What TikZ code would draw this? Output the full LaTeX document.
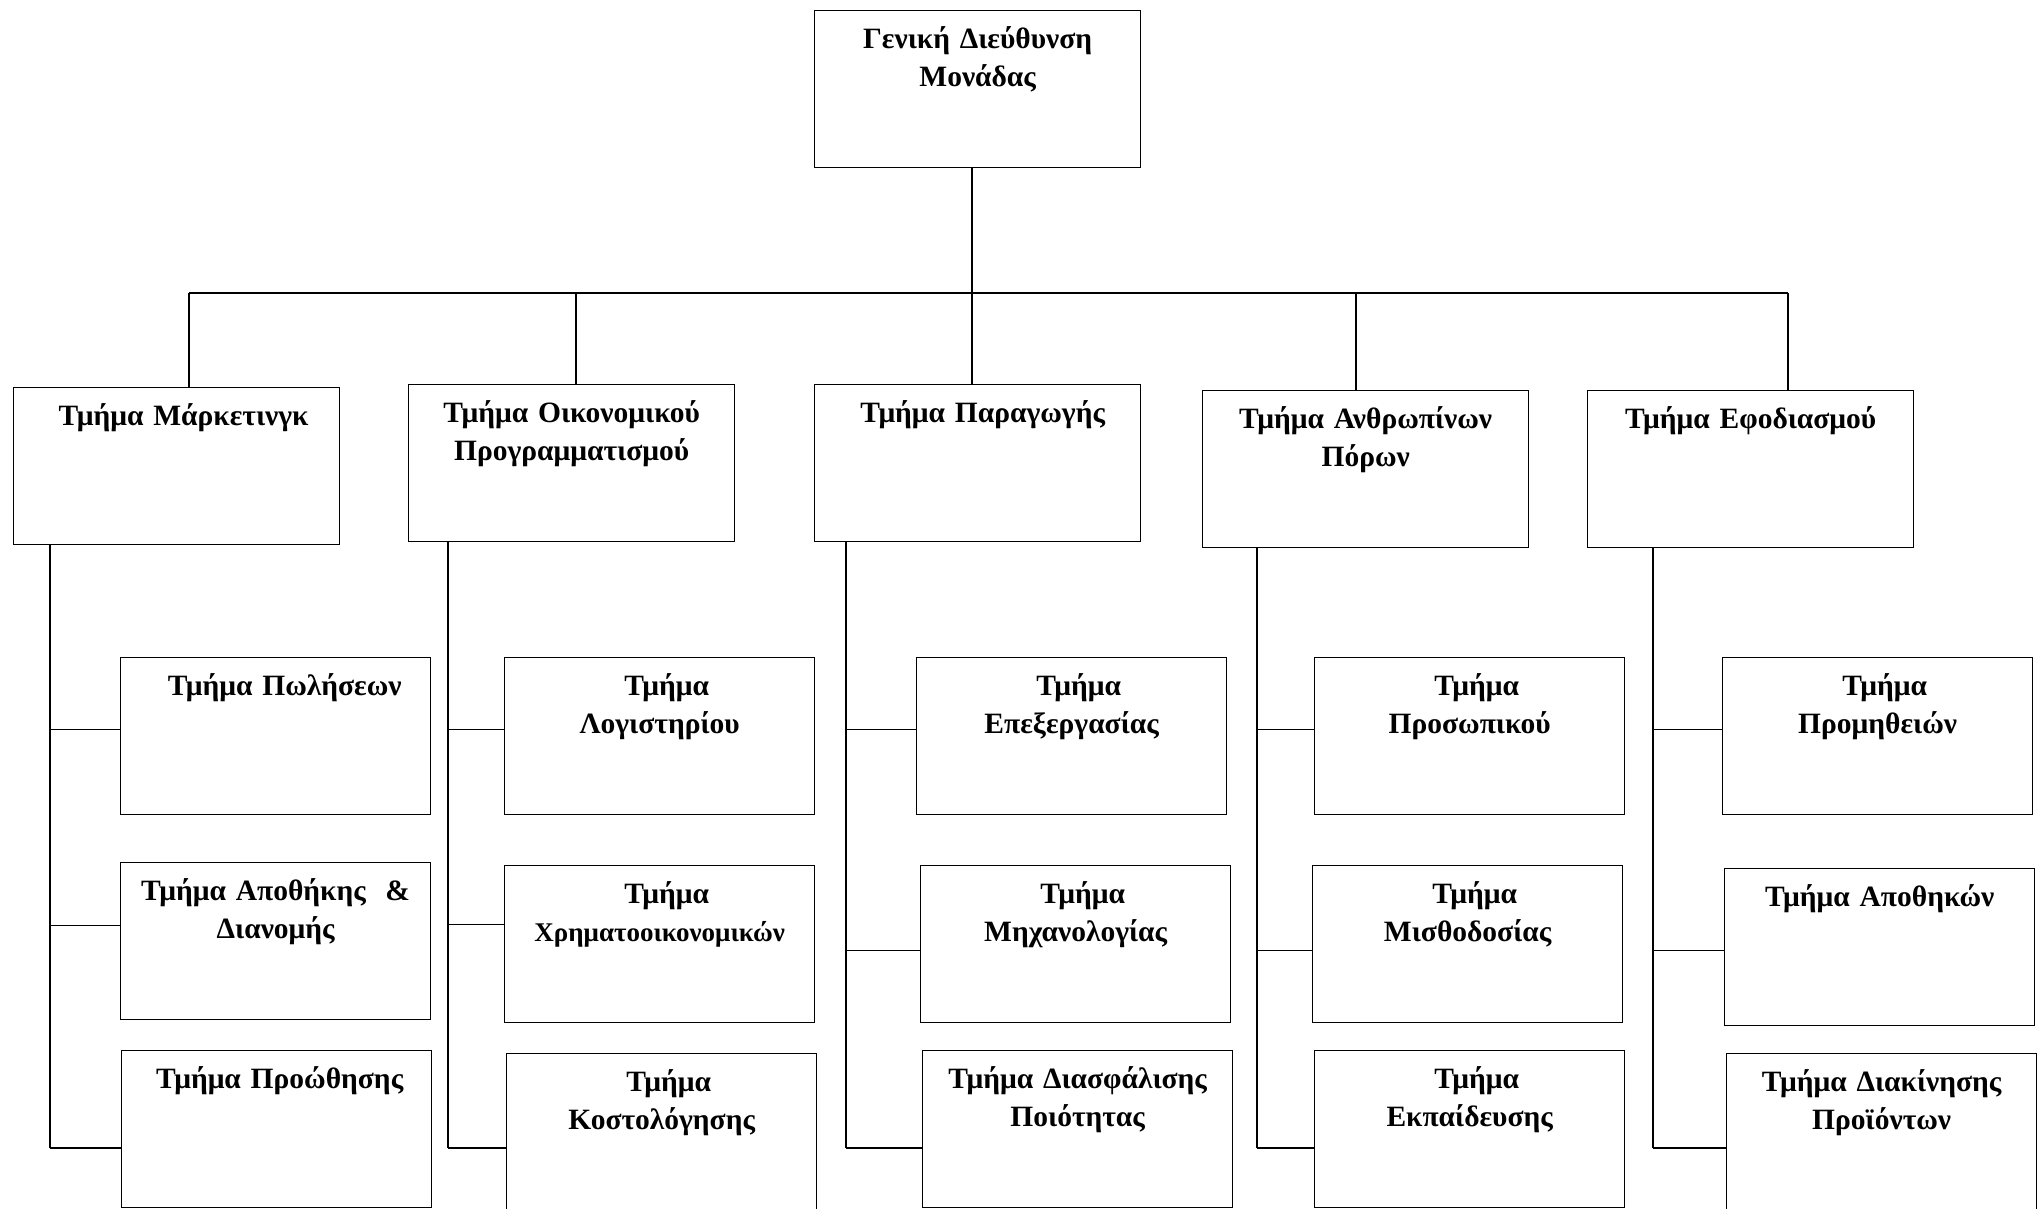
\documentclass[tikz,border=0pt]{standalone}
\usepackage{fontspec}
\setmainfont{Liberation Serif}

\begin{document}
\begin{tikzpicture}[
  x=1pt, y=-1pt,
  head/.style={draw, rectangle, line width=1.3pt, anchor=north west, inner sep=0pt,
               text width=326pt, align=center, text height=38pt, text depth=119pt,
               font=\fontsize{29.5}{37.5}\selectfont\bfseries},
  unit/.style={head, text width=310pt},
  link/.style={line width=1.3pt}
]
\useasboundingbox (0,0) rectangle (2037,1208);
\node[head] (gd)   at (814,10)   {Γενική Διεύθυνση\\Μονάδας};
\node[head] (mkt)  at (13,387)   {\hspace{14pt}Τμήμα Μάρκετινγκ};
\node[head] (oik)  at (408,384)  {Τμήμα Οικονομικού\\Προγραμματισμού};
\node[head] (par)  at (814,384)  {\hspace{10pt}Τμήμα Παραγωγής};
\node[head] (anth) at (1202,390) {Τμήμα Ανθρωπίνων\\Πόρων};
\node[head] (efo)  at (1587,390) {Τμήμα Εφοδιασμού};
% Marketing
\node[unit] (pol)  at (120,657)  {\hspace{18pt}Τμήμα Πωλήσεων};
\node[unit] (apo)  at (120,862)  {Τμήμα Αποθήκης \ \&\\Διανομής};
\node[unit] (pro)  at (121,1050) {\hspace{6pt}Τμήμα Προώθησης};
% Finance
\node[unit] (log)  at (504,657)  {\hspace{14pt}Τμήμα\\Λογιστηρίου};
\node[unit] (chr)  at (504,865)  {\hspace{14pt}Τμήμα\\{\fontsize{27}{37.5}\selectfont Χρηματοοικονομικών}};
\node[unit] (kos)  at (506,1053) {\hspace{14pt}Τμήμα\\Κοστολόγησης};
% Production
\node[unit] (epe)  at (916,657)  {\hspace{14pt}Τμήμα\\Επεξεργασίας};
\node[unit] (mix)  at (920,865)  {\hspace{14pt}Τμήμα\\Μηχανολογίας};
\node[unit] (dia)  at (922,1050) {Τμήμα Διασφάλισης\\Ποιότητας};
% Human resources
\node[unit] (pros) at (1314,657) {\hspace{14pt}Τμήμα\\Προσωπικού};
\node[unit] (mis)  at (1312,865) {\hspace{14pt}Τμήμα\\Μισθοδοσίας};
\node[unit] (ekp)  at (1314,1050) {\hspace{14pt}Τμήμα\\Εκπαίδευσης};
% Supplies
\node[unit] (prom) at (1722,657) {\hspace{14pt}Τμήμα\\Προμηθειών};
\node[unit] (apth) at (1724,868) {Τμήμα Αποθηκών};
\node[unit] (diak) at (1726,1053) {Τμήμα Διακίνησης\\Προϊόντων};
% Bus under the general directorate
\coordinate (b1) at (189,293);
\coordinate (b2) at (576,293);
\coordinate (b3) at (972,293);
\coordinate (b4) at (1356,293);
\coordinate (b5) at (1788,293);
\draw[link] (gd.south -| b3) -- (b3 |- par.north);
\draw[link] (b1) -- (b5);
\draw[link] (b1) -- (b1 |- mkt.north);
\draw[link] (b2) -- (b2 |- oik.north);
\draw[link] (b4) -- (b4 |- anth.north);
\draw[link] (b5) -- (b5 |- efo.north);
% Trunks down each department
\coordinate (t1) at (50,1148);
\coordinate (t2) at (448,1148);
\coordinate (t3) at (846,1148);
\coordinate (t4) at (1257,1148);
\coordinate (t5) at (1653,1148);
\draw[link] (mkt.south -| t1) -- (t1);
\draw[link] (oik.south -| t2) -- (t2);
\draw[link] (par.south -| t3) -- (t3);
\draw[link] (anth.south -| t4) -- (t4);
\draw[link] (efo.south -| t5) -- (t5);
% Branches
\draw[link] ([yshift=7pt]pol.west) -- ([yshift=7pt]pol.west -| t1);
\draw[link] ([yshift=16pt]apo.west) -- ([yshift=16pt]apo.west -| t1);
\draw[link] (t1) -- (t1 -| pro.west);
\draw[link] ([yshift=7pt]log.west) -- ([yshift=7pt]log.west -| t2);
\draw[link] ([yshift=19.5pt]chr.west) -- ([yshift=19.5pt]chr.west -| t2);
\draw[link] (t2) -- (t2 -| kos.west);
\draw[link] ([yshift=7pt]epe.west) -- ([yshift=7pt]epe.west -| t3);
\draw[link] ([yshift=-6pt]mix.west) -- ([yshift=-6pt]mix.west -| t3);
\draw[link] (t3) -- (t3 -| dia.west);
\draw[link] ([yshift=7pt]pros.west) -- ([yshift=7pt]pros.west -| t4);
\draw[link] ([yshift=-6pt]mis.west) -- ([yshift=-6pt]mis.west -| t4);
\draw[link] (t4) -- (t4 -| ekp.west);
\draw[link] ([yshift=7pt]prom.west) -- ([yshift=7pt]prom.west -| t5);
\draw[link] ([yshift=-3.5pt]apth.west) -- ([yshift=-3.5pt]apth.west -| t5);
\draw[link] (t5) -- (t5 -| diak.west);
\end{tikzpicture}
\end{document}
